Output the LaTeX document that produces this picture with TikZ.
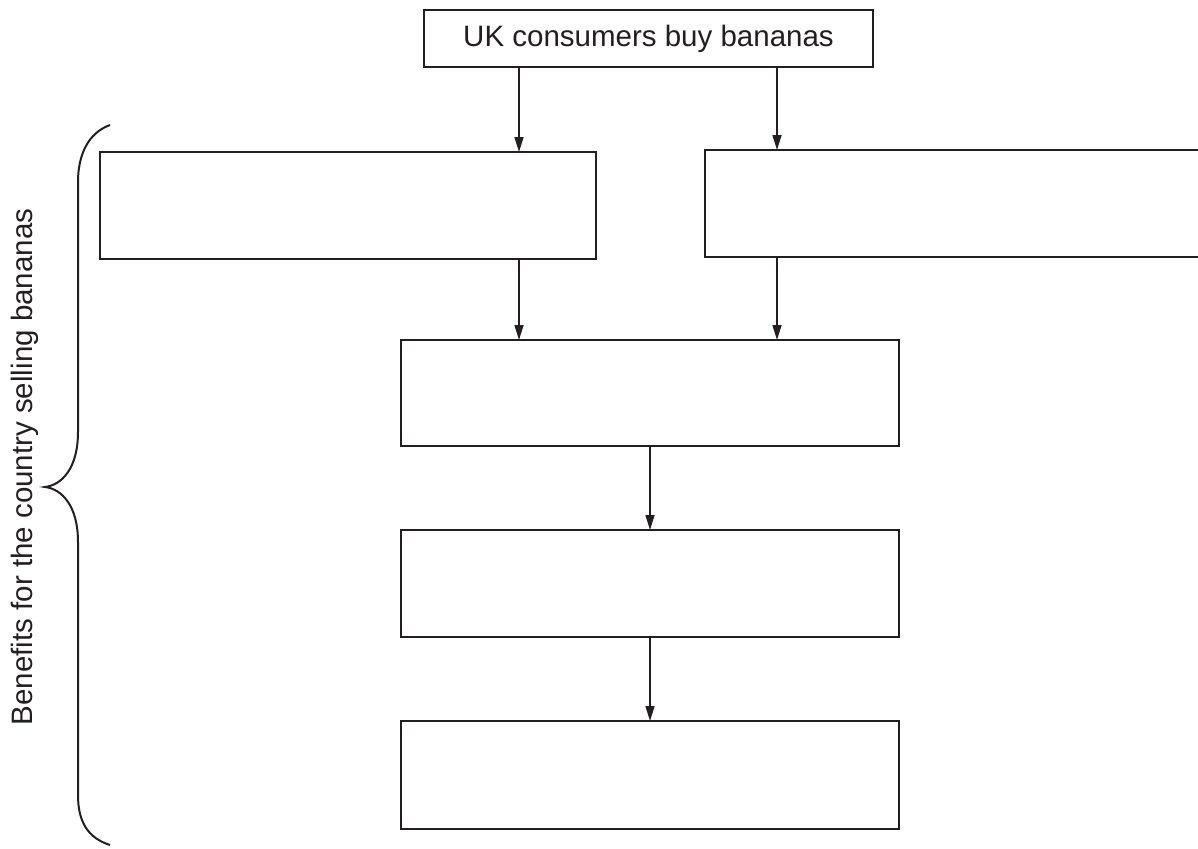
\documentclass[tikz,border=0pt]{standalone}
\usepackage{fontspec}
\setmainfont{Liberation Sans}
\usetikzlibrary{arrows.meta}
\begin{document}
\begin{tikzpicture}[x=1pt,y=-1pt,
  line width=1.6pt, draw={rgb,255:red,35;green,31;blue,32},
  box/.style={draw, rectangle, inner sep=0pt, outer sep=0pt},
  arr/.style={-{Triangle[length=15pt,width=9pt]}},
  lbl/.style={font=\fontsize{29.5}{34}\selectfont, text={rgb,255:red,35;green,31;blue,32}}]
\useasboundingbox (0,0) rectangle (1198,848);
\clip (0,0) rectangle (1198,848);
\coordinate (cL) at (519,0);
\coordinate (cR) at (777,0);
\coordinate (cM) at (650,0);
\node[box, minimum width=449pt, minimum height=57pt, lbl] (top) at (648.5,38.5) {UK consumers buy bananas};
\node[box, minimum width=496pt, minimum height=107pt] (left) at (348,205.5) {};
\node[box, minimum width=510pt, minimum height=107pt] (right) at (960,203.5) {};
\node[box, minimum width=498pt, minimum height=106pt] (b3) at (650,393) {};
\node[box, minimum width=498pt, minimum height=107pt] (b4) at (650,583.5) {};
\node[box, minimum width=498pt, minimum height=108pt] (b5) at (650,775) {};
\draw[arr] (top.south -| cL) -- (left.north -| cL);
\draw[arr] (top.south -| cR) -- (right.north -| cR);
\draw[arr] (left.south -| cL) -- (b3.north -| cL);
\draw[arr] (right.south -| cR) -- (b3.north -| cR);
\draw[arr] (b3.south -| cM) -- (b4.north -| cM);
\draw[arr] (b4.south -| cM) -- (b5.north -| cM);
\coordinate (bt) at (110,125);
\coordinate (bm) at (45,487);
\coordinate (bb) at (110,845);
\draw[line width=2pt] (bt) .. controls (88,133) and (78,155) .. (78,182)
  -- (78,432) .. controls (78,468) and (62,485) .. (bm)
  .. controls (62,489) and (78,506) .. (78,542)
  -- (78,795) .. controls (78,822) and (88,838) .. (bb);
\node[lbl, rotate=90] (brace) at (25,467) {Benefits for the country selling bananas};
\end{tikzpicture}
\end{document}
